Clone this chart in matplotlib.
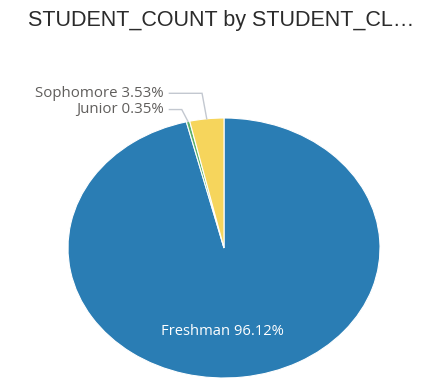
import matplotlib
matplotlib.use("Agg")
import matplotlib.pyplot as plt
import numpy as np

categories = ["Freshman", "Junior", "Sophomore"]
values = [96.12, 0.35, 3.53]
colors = ["#2A7DB4", "#5BB06A", "#F6D55C"]
title = "STUDENT_COUNT by STUDENT_CL…"

W, H = 442, 380
fig = plt.figure(figsize=(W / 100, H / 100), dpi=100)
fig.patch.set_facecolor("white")

# pie ellipse bounding box in pixels
left_px, right_px, top_px, bottom_px = 68, 380, 118, 378
ax = fig.add_axes([left_px / W, (H - bottom_px) / H,
                   (right_px - left_px) / W, (bottom_px - top_px) / H])

wedges, _ = ax.pie(values, colors=colors, startangle=90, counterclock=False,
                   radius=1.0, wedgeprops=dict(edgecolor="white", linewidth=0.8))
ax.set_aspect("auto")
ax.set_xlim(-1, 1)
ax.set_ylim(-1, 1)
ax.axis("off")

label_font = ["Open Sans", "DejaVu Sans"]

# inside label for the big slice
ax.text(-0.01, -0.645, f"{categories[0]} {values[0]:.2f}%", color="white",
        fontsize=10.6, family=label_font, ha="center", va="center")

# outside labels with leader lines
label_y = {"Sophomore": 1.19, "Junior": 1.065}
elbow_dx = {"Sophomore": 0.03, "Junior": 0.04}
text_x = -0.385
line_start = -0.35
for w, cat, val in zip(wedges, categories, values):
    if cat not in label_y:
        continue
    mid = np.deg2rad((w.theta1 + w.theta2) / 2)
    ax_, ay_ = np.cos(mid), np.sin(mid)
    ly = label_y[cat]
    ex = ax_ - elbow_dx[cat]
    ax.plot([line_start, ex, ax_], [ly, ly, ay_], color="#C3C8D0",
            linewidth=1.0, clip_on=False, solid_joinstyle="miter")
    ax.text(text_x, ly, f"{cat} {val:.2f}%", color="#605E5C", fontsize=10.8,
            family=label_font, ha="right", va="center")

fig.text(0.5, 0.945, title, fontsize=15.5, family=["Liberation Sans", "DejaVu Sans"],
         color="#2B2B2B", ha="center", va="center")

fig.savefig("out.png", dpi=100)
